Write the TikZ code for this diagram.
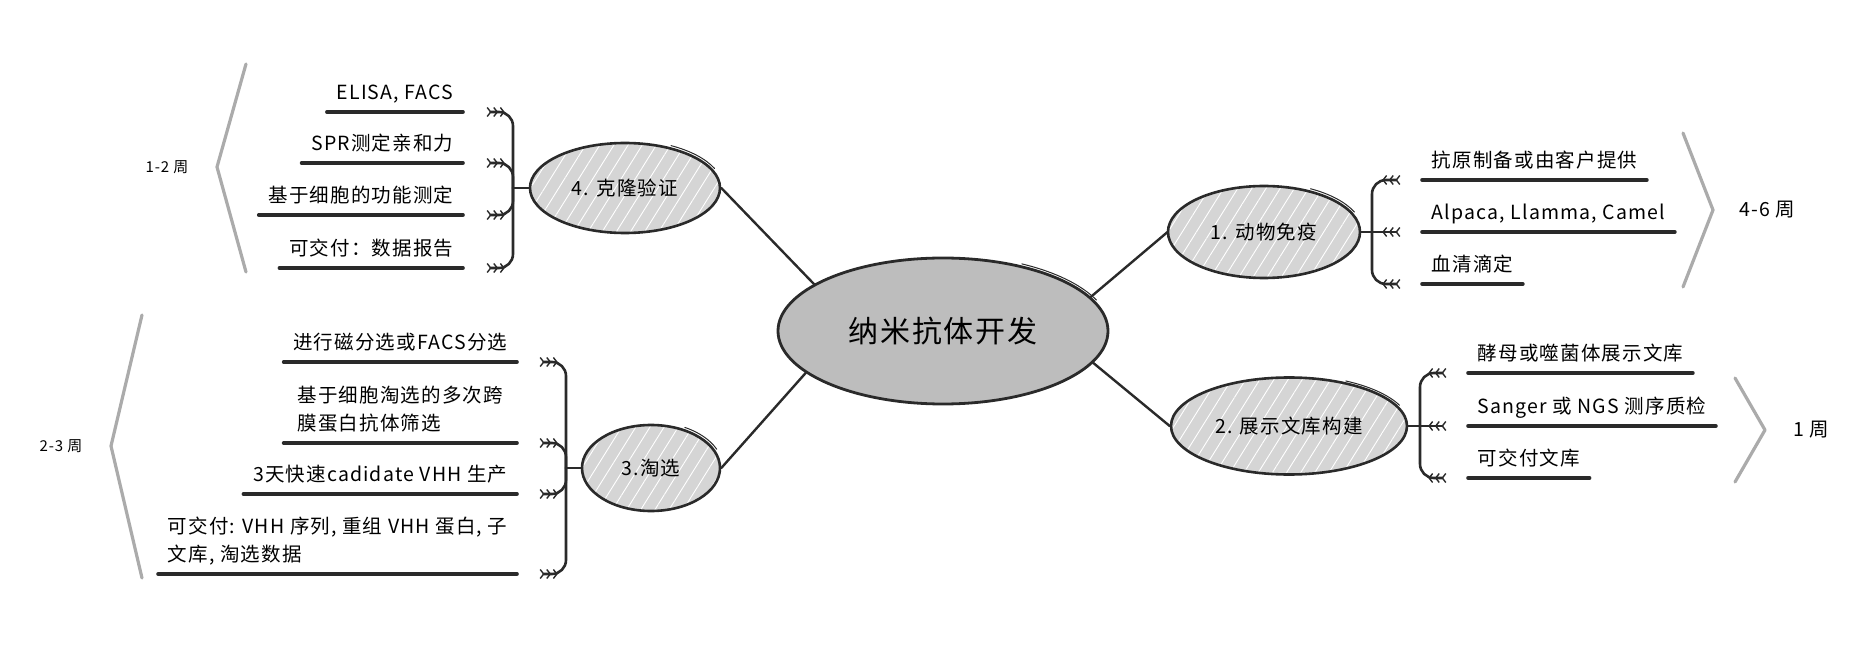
\documentclass[tikz,border=0pt]{standalone}
\usepackage{fontspec}
\setmainfont{Noto Sans CJK SC}[LetterSpace=6]
\usetikzlibrary{arrows.meta,shapes.geometric,patterns.meta}

\definecolor{ink}{HTML}{2A2A2A}
\definecolor{nodegray}{HTML}{D5D5D5}
\definecolor{maingray}{HTML}{BDBDBD}
\definecolor{weekgray}{HTML}{ABABAB}

\tikzset{
  feather/.tip={Straight Barb[reversed,length=3.5pt,width=9pt,line width=1.4pt,sep=1.5pt]
                Straight Barb[reversed,length=3.5pt,width=9pt,line width=1.4pt,sep=1.5pt]
                Straight Barb[reversed,length=3.5pt,width=9pt,line width=1.4pt,sep=1.5pt]},
  root/.style={ellipse, draw=ink, line width=2.8pt, fill=maingray, inner sep=0pt,
               font=\fontsize{30}{36}\selectfont},
  topic/.style={ellipse, draw=ink, line width=2.6pt, preaction={fill=nodegray},
                pattern={Lines[angle=58,distance=12pt,line width=0.9pt]}, pattern color=white,
                inner sep=0pt, font=\fontsize{19.5}{24}\selectfont},
  item/.style={inner xsep=9.5pt, inner ysep=8pt, text depth=4pt, align=left,
               font=\fontsize{19.5}{28}\selectfont},
  ritem/.style={item, anchor=south west},
  litem/.style={item, anchor=south east},
  uline/.style={ink, line width=3.6pt},
  brace/.style={ink, line width=2.6pt, rounded corners=14pt},
  link/.style={ink, line width=2.4pt},
  sketch/.style={ink, line width=1pt},
  weekbar/.style={weekgray, line width=3.2pt},
}

\begin{document}
\begin{tikzpicture}[x=1pt, y=1pt, line cap=round, line join=round]
  \useasboundingbox (0,0) rectangle (1875,-652);
  % --- root and topics ---
  \node[root, minimum width=330pt, minimum height=146pt] (c) at (943,-331) {纳米抗体开发};
  \node[topic, minimum width=192pt, minimum height=92pt] (n1) at (1264,-232) {1. 动物免疫};
  \node[topic, minimum width=236pt, minimum height=97pt] (n2) at (1289,-426) {2. 展示文库构建};
  \node[topic, minimum width=138pt, minimum height=86pt] (n3) at (651,-468) {3.淘选};
  \node[topic, minimum width=190pt, minimum height=90pt] (n4) at (625,-188) {4. 克隆验证};
  \draw[link] (n1.west) -- (c.13);
  \draw[link] (n2.west) -- (c.348);
  \draw[link] (n3.east) -- (c.197);
  \draw[link] (n4.east) -- (c.160);
  % sketchy second stroke, top right of each ellipse
  \foreach \n/\rx/\ry in {c/168/76, n1/99/49, n2/121/51, n3/72/46, n4/98/48}
    \draw[sketch] (\n.center) ++(62:\rx pt and \ry pt)
      arc[start angle=62, end angle=24, x radius=\rx pt, y radius=\ry pt];

  % --- 1. 动物免疫 ---
  \node[ritem] (a1) at (1422,-180) {抗原制备或由客户提供};
  \node[ritem] (a2) at (1422,-232) {Alpaca, Llamma, Camel};
  \node[ritem] (a3) at (1422,-284) {血清滴定};
  \coordinate (b1) at (1372,-232);
  \draw[brace, {feather}-{feather}, shorten <=20pt, shorten >=20pt] (a1.south west) -| (b1) |- (a3.south west);
  \draw[brace, -{feather}, shorten >=20pt] (n1) -- (a2.south west);

  % --- 2. 展示文库构建 ---
  \node[ritem] (d1) at (1468,-373) {酵母或噬菌体展示文库};
  \node[ritem] (d2) at (1468,-426) {Sanger 或 NGS 测序质检};
  \node[ritem] (d3) at (1468,-478) {可交付文库};
  \coordinate (b2) at (1420,-426);
  \draw[brace, {feather}-{feather}, shorten <=20pt, shorten >=20pt] (d1.south west) -| (b2) |- (d3.south west);
  \draw[brace, -{feather}, shorten >=20pt] (n2) -- (d2.south west);

  % --- 4. 克隆验证 ---
  \node[litem] (e1) at (463,-112) {ELISA, FACS};
  \node[litem] (e2) at (463,-163) {SPR测定亲和力};
  \node[litem] (e3) at (463,-215) {基于细胞的功能测定};
  \node[litem] (e4) at (463,-268) {可交付：数据报告};
  \coordinate (b4) at (513,-188);
  \draw[brace, {feather}-{feather}, shorten <=22pt, shorten >=22pt] (e1.south east) -| (b4) |- (e4.south east);
  \draw[brace, {feather}-, shorten <=22pt] (e2.south east) -| (b4);
  \draw[brace, {feather}-, shorten <=22pt] (e3.south east) -| (b4);
  \draw[brace] (b4) -- (n4);

  % --- 3. 淘选 ---
  \node[litem] (f1) at (517,-362) {进行磁分选或FACS分选};
  \node[litem, minimum width=233pt] (f2) at (517,-443) {基于细胞淘选的多次跨\\膜蛋白抗体筛选};
  \node[litem] (f3) at (517,-494) {3天快速cadidate VHH 生产};
  \node[litem] (f4) at (517,-574) {可交付: VHH 序列, 重组 VHH 蛋白, 子\\文库, 淘选数据};
  \coordinate (b3) at (566,-468);
  \draw[brace, {feather}-{feather}, shorten <=21pt, shorten >=21pt] (f1.south east) -| (b3) |- (f4.south east);
  \draw[brace, {feather}-, shorten <=21pt] (f2.south east) -| (b3);
  \draw[brace, {feather}-, shorten <=21pt] (f3.south east) -| (b3);
  \draw[brace] (b3) -- (n3);

  % underlines
  \foreach \n in {a1,a2,a3,d1,d2,d3,e1,e2,e3,e4,f1,f2,f3,f4}
    \draw[uline] (\n.south west) -- (\n.south east);

  % --- durations ---
  \draw[weekbar] (1683,-133) -- (1713,-210) -- (1683,-287);
  \node[font=\fontsize{19.5}{24}\selectfont] (w1) at (1767,-210) {4-6 周};
  \draw[weekbar] (1735,-378) -- (1765,-430) -- (1735,-482);
  \node[font=\fontsize{19.5}{24}\selectfont] (w2) at (1811,-430) {1 周};
  \draw[weekbar] (246,-64) -- (217,-167) -- (246,-272);
  \node[font=\fontsize{15}{18}\selectfont] (w3) at (167,-167) {1-2 周};
  \draw[weekbar] (142,-315) -- (111,-446) -- (142,-578);
  \node[font=\fontsize{15}{18}\selectfont] (w4) at (61,-446) {2-3 周};
\end{tikzpicture}
\end{document}
